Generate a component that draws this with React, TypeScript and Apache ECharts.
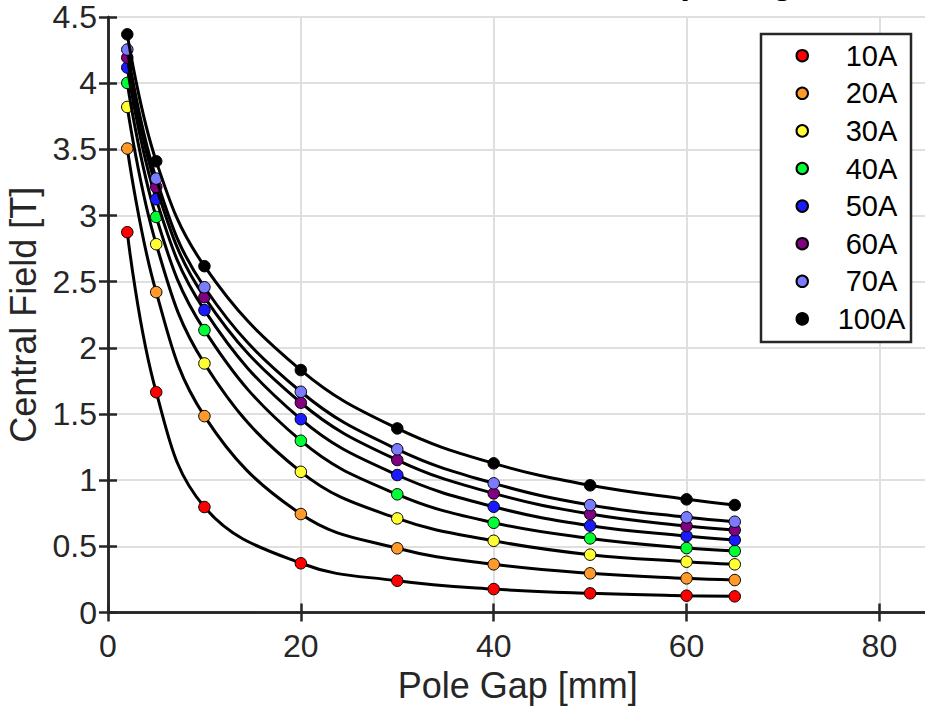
import React, { useEffect, useRef } from "react";
import * as echarts from "echarts";

const poleGap = [2, 5, 10, 20, 30, 40, 50, 60, 65];
const currentLabels = ["10A", "20A", "30A", "40A", "50A", "60A", "70A", "100A"];
const field10A = [2.874, 1.665, 0.797, 0.372, 0.24, 0.177, 0.145, 0.127, 0.122];
const field20A = [3.506, 2.421, 1.484, 0.744, 0.485, 0.364, 0.296, 0.258, 0.245];
const field30A = [3.82, 2.783, 1.882, 1.063, 0.711, 0.542, 0.437, 0.384, 0.364];
const field40A = [4.002, 2.989, 2.134, 1.298, 0.893, 0.678, 0.56, 0.487, 0.465];
const field50A = [4.118, 3.123, 2.285, 1.461, 1.039, 0.799, 0.656, 0.578, 0.548];
const field60A = [4.193, 3.216, 2.383, 1.585, 1.152, 0.9, 0.744, 0.653, 0.623];
const field70A = [4.254, 3.279, 2.458, 1.668, 1.233, 0.976, 0.812, 0.719, 0.686];
const field100A = [4.369, 3.41, 2.617, 1.832, 1.391, 1.127, 0.961, 0.855, 0.812];
const fieldSets = [field10A, field20A, field30A, field40A, field50A, field60A, field70A, field100A];
const markerColors = ["#ff0000", "#ff9a2a", "#ffff33", "#00ff33", "#1a1aff", "#800080", "#7b7bff", "#000000"];
const xTicks = [0, 20, 40, 60, 80];

const FONT = "'Liberation Sans', Arial, Helvetica, sans-serif";
const INK = "#262626";

export default function App() {
  const ref = useRef<HTMLDivElement>(null);
  useEffect(() => {
    if (!ref.current) return;
    const chart = echarts.init(ref.current, null, { renderer: "svg" });
    const gridLeft = 108;
    const gridTop = 17;
    const gridWidth = 819.6;
    const gridHeight = 595.5;
    chart.setOption({
      animation: false,
      backgroundColor: "#ffffff",
      textStyle: { fontFamily: FONT },
      grid: {
        left: gridLeft,
        top: gridTop,
        width: gridWidth,
        height: gridHeight,
        containLabel: false,
        outerBoundsMode: "none",
      },
      graphic: [
        {
          type: "text",
          x: 548,
          y: -1.5,
          z: 10,
          style: {
            text: "Central Field vs Pole Spacing",
            fontFamily: FONT,
            fontSize: 35,
            fontWeight: "bold",
            fill: "#000000",
            align: "center",
            verticalAlign: "bottom",
          },
        },
        {
          type: "rect",
          z: 3,
          shape: { x: 761, y: 34, width: 150, height: 308 },
          style: { fill: "#ffffff", stroke: INK, lineWidth: 2.5 },
        },
      ],
      legend: {
        orient: "vertical",
        left: 795.5,
        top: 41.2,
        padding: 0,
        itemGap: 8.6,
        itemWidth: 11.5,
        itemHeight: 11.5,
        icon: "circle",
        z: 5,
        data: currentLabels,
        formatter: (name: string) => `{c|${name}}`,
        textStyle: {
          fontFamily: FONT,
          fontSize: 29,
          color: "#000000",
          rich: {
            c: { width: 117, align: "center", fontSize: 29, fontFamily: FONT, color: "#000000" },
          },
        },
      },
      xAxis: [
        {
          type: "value",
          min: 0,
          max: 85,
          interval: 20,
          name: "Pole Gap [mm]",
          nameLocation: "middle",
          nameGap: 55,
          nameTextStyle: { fontFamily: FONT, fontSize: 36, color: INK },
          axisLine: { show: true, lineStyle: { color: INK, width: 2.5 } },
          axisTick: { show: true, inside: true, length: 9, lineStyle: { color: INK, width: 2.5 } },
          axisLabel: {
            margin: 17,
            fontFamily: FONT,
            fontSize: 32,
            color: INK,
            formatter: (v: number) => (xTicks.includes(v) ? String(v) : ""),
          },
          splitLine: { show: true, lineStyle: { color: "#dfdfdf", width: 2 } },
        },
        {
          type: "value",
          position: "top",
          min: 0,
          max: 85,
          interval: 20,
          axisLine: { show: true, lineStyle: { color: INK, width: 2.5 } },
          axisTick: { show: true, inside: true, length: 9, lineStyle: { color: INK, width: 2.5 } },
          axisLabel: { show: false },
          splitLine: { show: false },
        },
      ],
      yAxis: [
        {
          type: "value",
          min: 0,
          max: 4.5,
          interval: 0.5,
          name: "Central Field [T]",
          nameLocation: "middle",
          nameRotate: 90,
          nameGap: 66,
          nameTextStyle: { fontFamily: FONT, fontSize: 36, color: INK },
          axisLine: { show: true, lineStyle: { color: INK, width: 2.5 } },
          axisTick: { show: true, inside: true, length: 9, lineStyle: { color: INK, width: 2.5 } },
          axisLabel: { margin: 11, fontFamily: FONT, fontSize: 32, color: INK },
          splitLine: { show: true, lineStyle: { color: "#dfdfdf", width: 2 } },
        },
        {
          type: "value",
          position: "right",
          min: 0,
          max: 4.5,
          interval: 0.5,
          axisLine: { show: true, lineStyle: { color: INK, width: 2.5 } },
          axisTick: { show: true, inside: true, length: 9, lineStyle: { color: INK, width: 2.5 } },
          axisLabel: { show: false },
          splitLine: { show: false },
        },
      ],
      series: fieldSets.map((vals, i) => ({
        name: currentLabels[i],
        type: "line",
        xAxisIndex: 0,
        yAxisIndex: 0,
        smooth: 0.4,
        symbol: "circle",
        symbolSize: 11.5,
        showSymbol: true,
        z: 2 + i * 0.01,
        data: poleGap.map((x, j) => [x, vals[j]]),
        lineStyle: { color: "#000000", width: 3 },
        itemStyle: { color: markerColors[i], borderColor: "#000000", borderWidth: 1 },
        emphasis: { disabled: true },
      })),
    });
    return () => chart.dispose();
  }, []);
  return (
    <div
      ref={ref}
      style={{ position: "fixed", left: 0, top: 0, width: 925, height: 714, background: "#fff" }}
    />
  );
}
